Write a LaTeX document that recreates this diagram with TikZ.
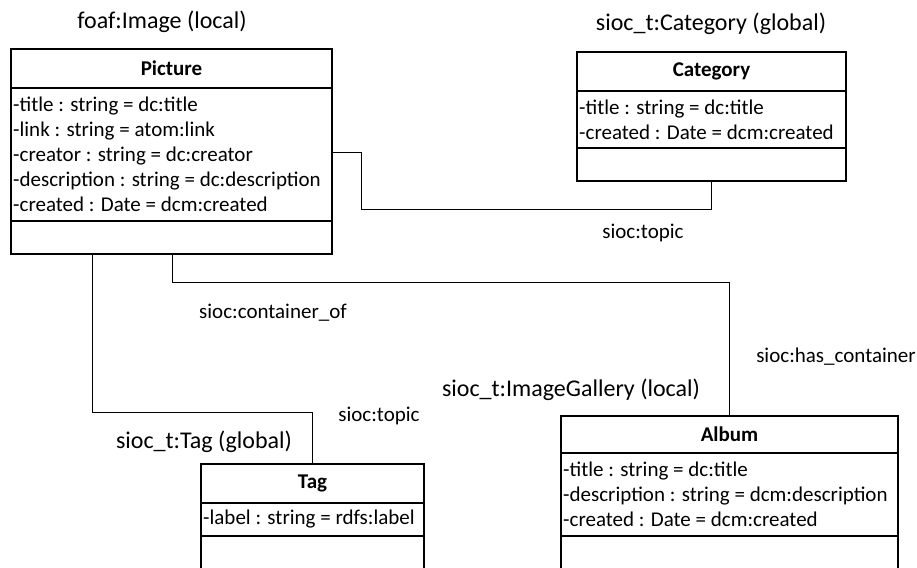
\documentclass[tikz,border=0pt]{standalone}
\usepackage{fontspec}
\setmainfont{Carlito}
\begin{document}
\begin{tikzpicture}[x=1pt,y=-1pt,
  boxline/.style={draw, line width=1.6pt, outer sep=0pt},
  hdr/.style={boxline, anchor=north west, inner sep=0pt, font=\fontsize{21}{25}\selectfont\bfseries},
  part/.style={boxline, anchor=north west, inner sep=0pt},
  attrtxt/.style={anchor=west, inner sep=0pt, align=left, font=\fontsize{21}{25}\selectfont},
  conn/.style={line width=1pt},
  ttl/.style={font=\fontsize{24}{28}\selectfont, inner sep=0pt},
  lbl/.style={font=\fontsize{21}{25}\selectfont, inner sep=0pt}]
\useasboundingbox (0,0) rectangle (917,567);
\clip (0,0) rectangle (917,567);

% Picture
\node[hdr, minimum width=321, minimum height=39] (picH) at (11,49) {Picture};
\node[part, minimum width=321, minimum height=133] (picA) at (picH.south west) {};
\node[attrtxt] (picX) at ([xshift=2pt]picA.west) {-title : string = dc:title\\-link : string = atom:link\\-creator : string = dc:creator\\-description : string = dc:description\\-created : Date = dcm:created};
\node[part, minimum width=321, minimum height=33] (picO) at (picA.south west) {};
\node[ttl] (picT) at (162,22) {foaf:Image (local)};

% Category
\node[hdr, minimum width=269, minimum height=39] (catH) at (577,52) {Category};
\node[part, minimum width=269, minimum height=57] (catA) at (catH.south west) {};
\node[attrtxt] (catX) at ([xshift=2pt]catA.west) {-title : string = dc:title\\-created : Date = dcm:created};
\node[part, minimum width=269, minimum height=33] (catO) at (catA.south west) {};
\node[ttl] (catT) at (711,24) {sioc\_t:Category (global)};

% Tag
\node[hdr, minimum width=223, minimum height=39] (tagH) at (201,464) {Tag};
\node[part, minimum width=223, minimum height=33] (tagA) at (tagH.south west) {};
\node[attrtxt] (tagX) at ([xshift=2pt]tagA.west) {-label : string = rdfs:label};
\node[part, minimum width=223, minimum height=60] (tagO) at (tagA.south west) {};
\node[ttl] (tagT) at (204,442) {sioc\_t:Tag (global)};

% Album
\node[hdr, minimum width=337, minimum height=37] (albH) at (561,416) {Album};
\node[part, minimum width=337, minimum height=83] (albA) at (albH.south west) {};
\node[attrtxt] (albX) at ([xshift=2pt]albA.west) {-title : string = dc:title\\-description : string = dcm:description\\-created : Date = dcm:created};
\node[part, minimum width=337, minimum height=60] (albO) at (albA.south west) {};
\node[ttl] (albT) at (571,390) {sioc\_t:ImageGallery (local)};

% connectors
\coordinate (c1) at (361,152);
\coordinate (c2) at (711,209);
\draw[conn] (picA.east |- c1) -- (c1) |- (c2) -- (c2 |- catO.south);
\coordinate (c3) at (92,412);
\coordinate (c4) at (312,412);
\draw[conn] (picO.south -| c3) -- (c3) -- (c4) -- (c4 |- tagH.north);
\coordinate (c5) at (172,282);
\coordinate (c6) at (729,282);
\draw[conn] (picO.south -| c5) -- (c5) -- (c6) -- (c6 |- albH.north);

% connector labels
\node[lbl] (l1) at (643,233) {sioc:topic};
\node[lbl] (l2) at (273,313) {sioc:container\_of};
\node[lbl] (l3) at (379,416) {sioc:topic};
\node[lbl] (l4) at (836,357) {sioc:has\_container};
\end{tikzpicture}
\end{document}
